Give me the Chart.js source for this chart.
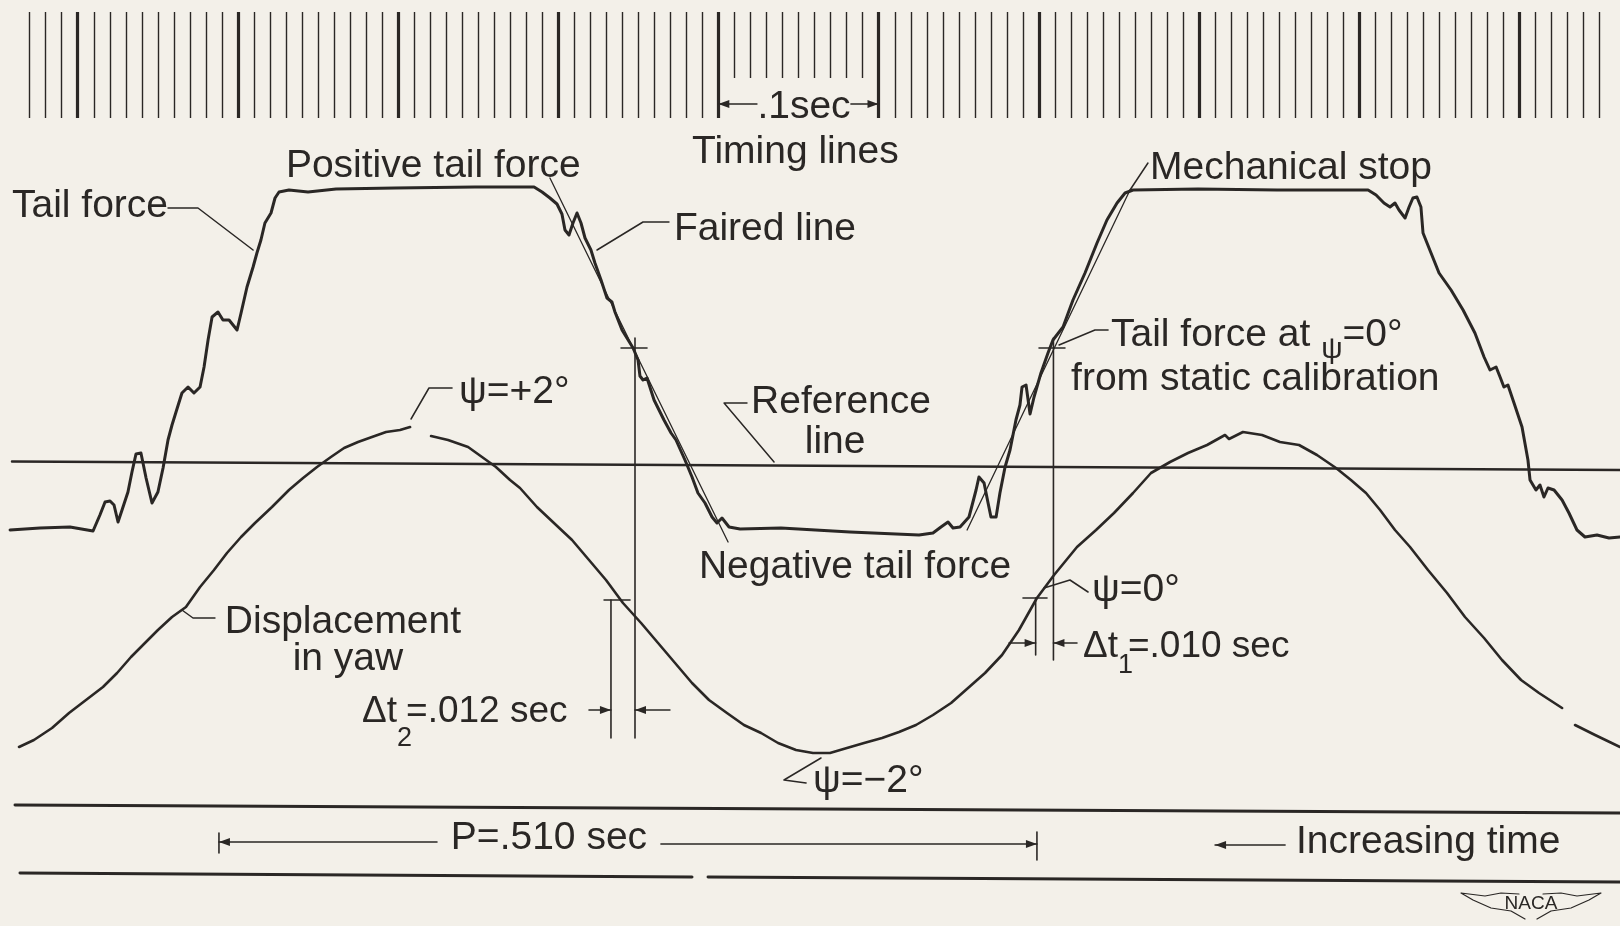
<!DOCTYPE html>
<html>
<head>
<meta charset="utf-8">
<title>Tail force and displacement in yaw - oscillograph record</title>
<script src="https://cdn.jsdelivr.net/npm/chart.js@4.4.1/dist/chart.umd.min.js"></script>
<style>
  html, body { margin: 0; padding: 0; background: #f3f0e9; }
  #wrap { width: 1620px; height: 926px; }
  canvas { display: block; }
</style>
</head>
<body>
<div id="wrap"><canvas id="record" width="1620" height="926"></canvas></div>
<script>
// record time in seconds (heavy timing line = every .1 sec), deflection from reference line in trace units

// tail force trace
const tailT = [-0.0421,-0.0234,-0.0047,0.0097,0.0140,0.0172,0.0203,0.0228,0.0253,0.0278,
  0.0315,0.0340,0.0365,0.0396,0.0428,0.0465,0.0502,0.0534,0.0565,0.0590,
  0.0615,0.0652,0.0690,0.0727,0.0765,0.0790,0.0815,0.0840,0.0877,0.0908,
  0.0946,0.0996,0.1021,0.1058,0.1096,0.1120,0.1145,0.1170,0.1208,0.1233,
  0.1258,0.1320,0.1439,0.1614,0.1982,0.2481,0.2850,0.2900,0.2949,0.2993,
  0.3024,0.3043,0.3068,0.3093,0.3118,0.3143,0.3168,0.3205,0.3230,0.3268,
  0.3305,0.3336,0.3355,0.3399,0.3468,0.3499,0.3511,0.3530,0.3555,0.3599,
  0.3661,0.3705,0.3736,0.3792,0.3836,0.3873,0.3917,0.3961,0.3992,0.4023,
  0.4067,0.4136,0.4391,0.4822,0.5253,0.5340,0.5390,0.5434,0.5465,0.5509,
  0.5565,0.5609,0.5627,0.5659,0.5684,0.5702,0.5734,0.5758,0.5790,0.5821,
  0.5858,0.5883,0.5896,0.5921,0.5946,0.5971,0.6014,0.6058,0.6089,0.6152,
  0.6214,0.6289,0.6364,0.6426,0.6489,0.6539,0.6589,0.6994,0.7488,0.8056,
  0.8106,0.8155,0.8193,0.8224,0.8249,0.8287,0.8312,0.8336,0.8361,0.8386,
  0.8399,0.8449,0.8499,0.8574,0.8649,0.8723,0.8780,0.8817,0.8855,0.8880,
  0.8904,0.8929,0.8967,0.9017,0.9054,0.9067,0.9104,0.9129,0.9154,0.9179,
  0.9217,0.9267,0.9310,0.9360,0.9410,0.9485,0.9560,0.9629];
const tailV = [-6.4,-6.2,-6.1,-6.5,-4.9,-3.6,-3.5,-3.9,-5.6,-4.4,
  -2.6,-0.6,1.2,1.3,-1.2,-3.7,-2.6,-0.2,2.6,4.1,
  5.4,7.3,7.9,7.3,7.9,9.9,12.6,14.9,15.4,14.6,
  14.6,13.6,15.3,17.9,19.9,21.3,22.6,24.3,25.3,26.8,
  27.4,27.6,27.4,27.7,27.8,27.9,27.9,27.4,26.8,26.2,
  25.2,23.6,23.1,24.3,25.3,24.3,22.8,21.6,20.3,18.6,
  16.8,16.4,15.4,13.6,11.8,10.6,9.0,8.6,8.8,6.6,
  4.6,3.3,2.6,0.6,-1.1,-2.7,-3.7,-5.1,-5.7,-5.2,
  -6.1,-6.3,-6.2,-6.6,-6.9,-6.7,-6.1,-5.6,-6.2,-6.1,
  -5.1,-2.4,-1.1,-1.7,-3.7,-5.1,-5.1,-2.7,-0.1,1.6,
  4.6,6.1,7.9,8.1,5.2,6.9,9.3,11.3,12.6,13.9,
  16.6,19.3,22.3,24.6,26.3,27.3,27.6,27.7,27.6,27.6,
  27.1,26.3,25.9,26.3,25.6,24.8,25.9,26.8,26.9,25.9,
  23.3,21.3,19.3,17.6,15.6,13.3,10.9,9.6,9.9,8.9,
  7.9,8.1,6.3,3.9,0.6,-1.4,-2.4,-1.9,-3.1,-2.2,
  -2.4,-3.4,-4.7,-6.4,-7.1,-6.9,-7.2,-7.1];

// displacement in yaw trace (null = break in the pen line)
const yawT = [-0.0365,-0.0272,-0.0159,-0.0053,0.0053,0.0159,0.0247,0.0334,0.0421,0.0502,
  0.0590,0.0677,0.0765,0.0852,0.0933,0.1021,0.1108,0.1214,0.1320,0.1408,
  0.1495,0.1582,0.1664,0.1751,0.1838,0.1926,0.2013,0.2076,0.2140,
  0.2207,0.2313,0.2438,0.2525,0.2612,0.2700,0.2762,0.2868,0.2974,0.3087,
  0.3193,0.3299,0.3405,0.3518,0.3624,0.3730,0.3836,0.3942,0.4054,0.4160,
  0.4267,0.4373,0.4485,0.4591,0.4697,0.4803,0.4910,0.5022,0.5128,0.5234,
  0.5340,0.5453,0.5559,0.5665,0.5771,0.5877,0.5989,0.6096,0.6239,0.6358,
  0.6470,0.6589,0.6701,0.6820,0.6932,0.7051,0.7163,0.7188,0.7275,0.7394,
  0.7506,0.7625,0.7737,0.7856,0.7949,0.8043,0.8131,0.8224,0.8318,0.8430,
  0.8549,0.8661,0.8780,0.8892,0.9011,0.9123,0.9267,0.9310,
  0.9348,0.9473,0.9629];
const yawV = [-28.1,-27.4,-26.2,-24.7,-23.4,-22.1,-20.7,-19.1,-17.7,-16.4,
  -15.1,-14.1,-12.1,-10.4,-8.7,-7.1,-5.7,-4.1,-2.4,-1.2,
  -0.1,0.9,1.8,2.4,2.9,3.4,3.6,3.9,null,
  3.0,2.6,1.9,0.9,-0.1,-1.4,-2.2,-4.1,-5.7,-7.4,
  -9.4,-11.4,-13.7,-15.7,-17.7,-19.7,-21.7,-23.4,-24.7,-25.9,
  -26.7,-27.7,-28.4,-28.7,-28.7,-28.2,-27.7,-27.2,-26.6,-25.9,
  -24.9,-23.7,-22.2,-20.7,-18.9,-16.4,-13.2,-10.9,-8.1,-6.4,
  -4.7,-2.7,-0.7,0.4,1.3,2.1,3.1,2.7,3.4,3.1,
  2.4,2.1,1.1,-0.2,-1.4,-2.7,-4.4,-6.4,-8.1,-10.4,
  -12.7,-15.1,-17.2,-19.4,-21.4,-22.7,-24.2,null,
  -25.9,-26.9,-28.1];

// reference line and the two border lines of the record
const refT = [-0.0409, 0.9629];
const refV = [0.45, -0.4];
const upperEdgeT = [-0.0390, 0.9629];
const upperEdgeV = [-33.9, -34.7];
const lowerEdgeT = [-0.0359, 0.3836, 0.3886, 0.3936, 0.9629];
const lowerEdgeV = [-40.7, -41.1, null, -41.1, -41.6];

// faired lines through the tail force trace
const fairedDownT = [0.2949, 0.4061];
const fairedDownV = [28.8, -7.6];
const fairedUpT = [0.5553, 0.6570];
const fairedUpV = [-6.4, 27.6];

// timing lines every .01 sec
const timingStep = 0.01;
const timingMarks = [];
for (let k = -3; k <= 95; k++) timingMarks.push(k * timingStep);

const X_MIN = -0.048377, X_MAX = 0.962859;
const Y_MIN = -46.0, Y_MAX = 46.6;

const ink = '#2a2725';
const font = '"Liberation Sans", Arial, sans-serif';

const pts = (ts, vs) => ts.map((t, i) => ({ x: t, y: vs[i] }));

// text on the record: [t, v] is the left end of the baseline unless align is center
const labels = [
  { t: -0.0409, v: 24.9, runs: [['Tail force']] },
  { t: 0.1301, v: 28.9, runs: [['Positive tail force']] },
  { t: 0.3836, v: 30.3, runs: [['Timing lines']] },
  { t: 0.4535, v: 34.8, align: 'center', runs: [['.1sec']] },
  { t: 0.6695, v: 28.7, runs: [['Mechanical stop']] },
  { t: 0.3723, v: 22.6, runs: [['Faired line']] },
  { t: 0.6451, v: 12.0, runs: [['Tail force at '], ['\u03C8', 30, 12], ['=0\u00B0']] },
  { t: 0.6202, v: 7.6, runs: [['from static calibration']] },
  { t: 0.4766, v: 5.3, align: 'center', runs: [['Reference']] },
  { t: 0.4729, v: 1.3, align: 'center', runs: [['line']] },
  { t: 0.2381, v: 6.3, runs: [['\u03C8=+2\u00B0']] },
  { t: 0.3879, v: -11.2, runs: [['Negative tail force']] },
  { t: 0.1657, v: -16.7, align: 'center', runs: [['Displacement']] },
  { t: 0.1688, v: -20.4, align: 'center', runs: [['in yaw']] },
  { t: 0.1776, v: -25.6, runs: [['\u0394t', 37], ['2', 27, 24, -6], ['=.012 sec', 37]] },
  { t: 0.4591, v: -32.6, runs: [['\u03C8=\u22122\u00B0']] },
  { t: 0.6333, v: -13.5, runs: [['\u03C8=0\u00B0']] },
  { t: 0.6276, v: -19.1, runs: [['\u0394t', 37], ['1', 27, 16, -5], ['=.010 sec', 37]] },
  { t: 0.2943, v: -38.3, align: 'center', runs: [['P=.510 sec']] },
  { t: 0.7606, v: -38.7, runs: [['Increasing time']] }
];

// leader lines from labels to the traces
const leaders = [
  [[0.0565, 25.8], [0.0752, 25.8], [0.1096, 21.6]],
  [[0.3692, 24.4], [0.3530, 24.4], [0.3243, 21.6]],
  [[0.6570, 27.6], [0.6682, 30.3]],
  [[0.6433, 13.6], [0.6351, 13.6], [0.6127, 12.1]],
  [[0.4179, 6.3], [0.4036, 6.3], [0.4348, 0.4]],
  [[0.2082, 4.7], [0.2194, 7.8], [0.2338, 7.8]],
  [[0.0652, -14.4], [0.0721, -15.2], [0.0858, -15.2]],
  [[0.4641, -29.2], [0.4410, -31.4], [0.4548, -31.7]],
  [[0.6033, -12.2], [0.6195, -11.4], [0.6308, -12.6]]
];

// construction lines used to read the phase lag
const construction = [
  [[0.3480, 12.8], [0.3480, -27.2]],
  [[0.3330, -13.4], [0.3330, -27.2]],
  [[0.3393, 11.8], [0.3555, 11.8]],
  [[0.3287, -13.4], [0.3449, -13.4]],
  [[0.6092, 12.8], [0.6092, -19.4]],
  [[0.5981, -13.2], [0.5981, -18.9]],
  [[0.6002, 11.8], [0.6164, 11.8]],
  [[0.5902, -13.2], [0.6052, -13.2]],
  [[0.0883, -36.7], [0.0883, -38.7]],
  [[0.5989, -36.6], [0.5989, -39.4]]
];

// arrows: [from, to], head at "to"
const arrows = [
  [[0.3193, -24.4], [0.3330, -24.4]],
  [[0.3698, -24.4], [0.3480, -24.4]],
  [[0.5815, -17.7], [0.5981, -17.7]],
  [[0.6239, -17.7], [0.6092, -17.7]],
  [[0.4241, 36.2], [0.4000, 36.2]],
  [[0.4828, 36.2], [0.5000, 36.2]],
  [[0.2244, -37.6], [0.0883, -37.6]],
  [[0.3642, -37.8], [0.5989, -37.8]],
  [[0.7538, -37.9], [0.7101, -37.9]]
];

const timingTop = 45.4, timingBottom = 34.8, timingShort = 38.8;
const nacaAt = [0.9073, -43.9];

const recordPlugin = {
  id: 'record',
  beforeDatasetsDraw(chart) {
    const ctx = chart.ctx, xs = chart.scales.x, ys = chart.scales.y;
    ctx.save();
    ctx.strokeStyle = ink;
    ctx.lineCap = 'butt';
    timingMarks.forEach(t => {
      const heavy = Math.abs(t * 10 - Math.round(t * 10)) < 1e-6;
      const short = t > 0.405 && t < 0.495;
      const x = Math.round(xs.getPixelForValue(t)) + 0.5;
      ctx.lineWidth = heavy ? 3.2 : 1.4;
      ctx.beginPath();
      ctx.moveTo(x, ys.getPixelForValue(timingTop));
      ctx.lineTo(x, ys.getPixelForValue(short ? timingShort : timingBottom));
      ctx.stroke();
    });
    ctx.restore();
  },
  afterDatasetsDraw(chart) {
    const ctx = chart.ctx, xs = chart.scales.x, ys = chart.scales.y;
    const P = p => [xs.getPixelForValue(p[0]), ys.getPixelForValue(p[1])];
    ctx.save();
    ctx.strokeStyle = ink;
    ctx.fillStyle = ink;
    ctx.lineJoin = 'round';
    ctx.lineCap = 'round';

    const poly = (list, w) => {
      ctx.lineWidth = w;
      ctx.beginPath();
      list.forEach((p, i) => {
        const [x, y] = P(p);
        if (i === 0) ctx.moveTo(x, y); else ctx.lineTo(x, y);
      });
      ctx.stroke();
    };
    leaders.forEach(l => poly(l, 1.5));
    construction.forEach(l => poly(l, 1.6));

    arrows.forEach(([a, b]) => {
      poly([a, b], 1.6);
      const [x1, y1] = P(a), [x2, y2] = P(b);
      const ang = Math.atan2(y2 - y1, x2 - x1);
      const len = 11, half = 4;
      ctx.beginPath();
      ctx.moveTo(x2, y2);
      ctx.lineTo(x2 - len * Math.cos(ang) + half * Math.sin(ang), y2 - len * Math.sin(ang) - half * Math.cos(ang));
      ctx.lineTo(x2 - len * Math.cos(ang) - half * Math.sin(ang), y2 - len * Math.sin(ang) + half * Math.cos(ang));
      ctx.closePath();
      ctx.fill();
    });

    // labels
    ctx.textBaseline = 'alphabetic';
    ctx.textAlign = 'left';
    labels.forEach(lb => {
      const [x0, y0] = P([lb.t, lb.v]);
      let total = 0;
      lb.runs.forEach(r => {
        ctx.font = (r[1] || 39) + 'px ' + font;
        total += ctx.measureText(r[0]).width + (r[3] || 0);
      });
      let x = lb.align === 'center' ? x0 - total / 2 : x0;
      lb.runs.forEach(r => {
        ctx.font = (r[1] || 39) + 'px ' + font;
        ctx.fillText(r[0], x, y0 + (r[2] || 0));
        x += ctx.measureText(r[0]).width + (r[3] || 0);
      });
    });

    // NACA wings emblem
    const [cx, cy] = P(nacaAt);
    ctx.lineWidth = 1.2;
    [-1, 1].forEach(s => {
      ctx.beginPath();
      ctx.moveTo(cx + s * 6, cy + 14);
      ctx.lineTo(cx + s * 20, cy + 6);
      ctx.lineTo(cx + s * 40, cy + 3);
      ctx.lineTo(cx + s * 58, cy - 5);
      ctx.lineTo(cx + s * 70, cy - 12);
      ctx.lineTo(cx + s * 46, cy - 9);
      ctx.lineTo(cx + s * 30, cy - 12);
      ctx.lineTo(cx + s * 12, cy - 11);
      ctx.stroke();
    });
    ctx.font = '19px ' + font;
    ctx.textAlign = 'center';
    ctx.fillText('NACA', cx, cy + 4);
    ctx.restore();
  }
};

const line = (data, width, extra) => Object.assign({
  data: data,
  showLine: true,
  pointRadius: 0,
  borderColor: ink,
  borderWidth: width,
  borderJoinStyle: 'round',
  borderCapStyle: 'round',
  tension: 0,
  fill: false
}, extra || {});

new Chart(document.getElementById('record'), {
  type: 'scatter',
  data: {
    datasets: [
      line(pts(tailT, tailV), 3.0, { label: 'Tail force' }),
      line(pts(yawT, yawV), 2.6, { label: 'Displacement in yaw' }),
      line(pts(refT, refV), 2.4, { label: 'Reference line' }),
      line(pts(fairedDownT, fairedDownV), 1.3, { label: 'Faired line' }),
      line(pts(fairedUpT, fairedUpV), 1.3, { label: 'Faired line' }),
      line(pts(upperEdgeT, upperEdgeV), 3.0, { label: 'edge' }),
      line(pts(lowerEdgeT, lowerEdgeV), 3.0, { label: 'edge' })
    ]
  },
  options: {
    responsive: false,
    animation: false,
    events: [],
    layout: { padding: 0 },
    plugins: { legend: { display: false }, tooltip: { enabled: false } },
    scales: {
      x: { type: 'linear', min: X_MIN, max: X_MAX, display: false },
      y: { type: 'linear', min: Y_MIN, max: Y_MAX, display: false }
    }
  },
  plugins: [recordPlugin]
});
</script>
</body>
</html>
